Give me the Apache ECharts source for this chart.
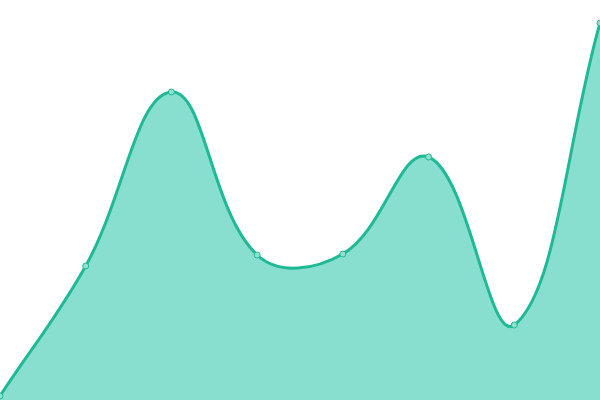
<!DOCTYPE html>
<html><head><meta charset="utf-8">
<script src="https://cdn.jsdelivr.net/npm/echarts@6/dist/echarts.min.js"></script>
<style>html,body{margin:0;padding:0;background:#fff}#c{width:600px;height:400px}</style>
</head><body><div id="c"></div>
<script>
const categories = ['A','B','C','D','E','F','G','H'];
const values = [4, 134, 308, 145, 146, 243, 75, 377];
const LINE = '#1fb995', AREA = '#89dfcf';
const chart = echarts.init(document.getElementById('c'));

function splinePath(pts, tension, rect) {
  const n = pts.length;
  const cps = pts.map(() => ({}));
  for (let i = 0; i < n; i++) {
    const cur = pts[i];
    const prev = pts[Math.max(0, i - 1)];
    const next = pts[Math.min(n - 1, i + 1)];
    const d01 = Math.hypot(cur[0] - prev[0], cur[1] - prev[1]);
    const d12 = Math.hypot(next[0] - cur[0], next[1] - cur[1]);
    let s01 = d01 / (d01 + d12), s12 = d12 / (d01 + d12);
    if (isNaN(s01)) s01 = 0; if (isNaN(s12)) s12 = 0;
    const fa = tension * s01, fb = tension * s12;
    const clampX = x => Math.max(rect.x, Math.min(rect.x + rect.width, x));
    const clampY = y => Math.max(rect.y, Math.min(rect.y + rect.height, y));
    cps[i].px = clampX(cur[0] - fa * (next[0] - prev[0]));
    cps[i].py = clampY(cur[1] - fa * (next[1] - prev[1]));
    cps[i].nx = clampX(cur[0] + fb * (next[0] - prev[0]));
    cps[i].ny = clampY(cur[1] + fb * (next[1] - prev[1]));
  }
  let d = 'M' + pts[0][0] + ' ' + pts[0][1];
  for (let i = 1; i < n; i++) {
    d += ' C' + cps[i - 1].nx + ' ' + cps[i - 1].ny + ' ' + cps[i].px + ' ' + cps[i].py + ' ' + pts[i][0] + ' ' + pts[i][1];
  }
  return d;
}

chart.setOption({
  animation: false,
  grid: {left: 0, right: 0, top: 0, bottom: 0},
  xAxis: {type: 'category', data: categories, boundaryGap: false, show: false},
  yAxis: {type: 'value', min: 0, max: 400, show: false},
  series: [{
    type: 'custom',
    z: 2,
    clip: false,
    data: values.map((v, i) => [i, v]),
    encode: {x: 0, y: 1},
    renderItem: function (params, api) {
      if (params.dataIndex !== 0) return;
      const pts = values.map((v, i) => api.coord([i, v]));
      const base = api.coord([0, 0])[1];
      const rect = params.coordSys;
      const line = splinePath(pts, 0.4, rect);
      const area = line + ' L' + pts[pts.length - 1][0] + ' ' + base + ' L' + pts[0][0] + ' ' + base + ' Z';
      return {
        type: 'group',
        children: [
          {type: 'path', shape: {pathData: area}, style: {fill: AREA, stroke: 'none'}},
          {type: 'path', shape: {pathData: line}, style: {fill: 'none', stroke: LINE, lineWidth: 3}}
        ]
      };
    }
  }, {
    type: 'line',
    z: 3,
    data: values,
    symbol: 'circle',
    symbolSize: 6,
    itemStyle: {color: '#8fe0d0', borderColor: LINE, borderWidth: 1},
    lineStyle: {opacity: 0}
  }]
});
</script></body></html>
